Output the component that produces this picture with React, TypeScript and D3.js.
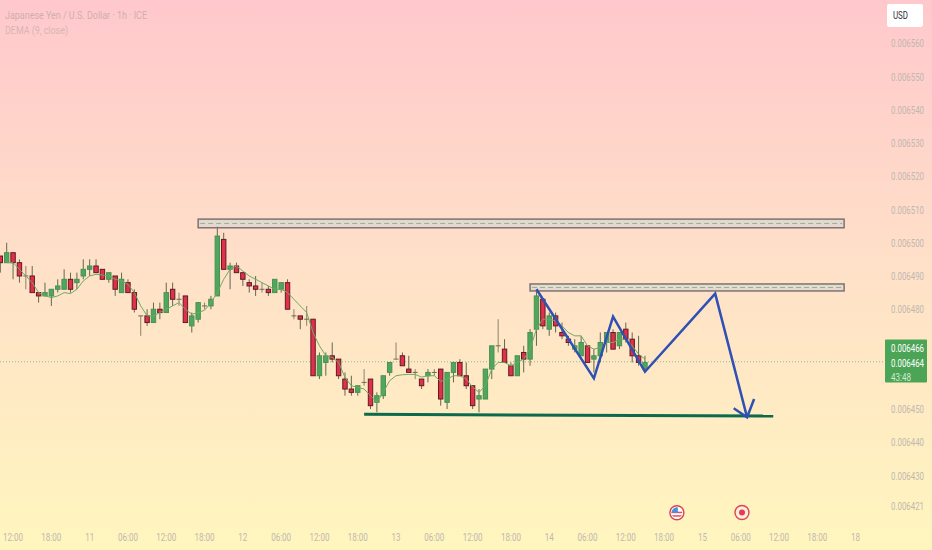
import React from "react";
import * as d3 from "d3";

const opens = [6496,6494,6497,6494,6490,6490,6485,6484,6484,6486,6486,6489,6488,6490,6492,6493,6492,6489,6490,6485,6488,6485,6478,6478,6476,6480,6479,6486,6483,6484,6475,6477,6481,6481,6484,6501,6492,6493,6491,6488,6487,6486,6486,6485,6486,6488,6478,6478,6477,6477,6460,6464,6466,6465,6459,6456,6455,6458,6459,6452,6454,6461,6465,6466,6462,6461,6459,6460,6461,6462,6452,6461,6464,6460,6457,6453,6453,6462,6469,6468,6463,6460,6467,6465,6474,6483,6474,6478,6473,6471,6468,6466,6469,6465,6466,6470,6473,6469,6474,6471,6466,6462];
const highs = [6496,6500,6497,6495,6493,6493,6485,6488,6486,6489,6492,6491,6491,6495,6495,6495,6492,6491,6490,6491,6489,6486,6478,6480,6482,6482,6488,6488,6485,6484,6479,6482,6482,6484,6505,6503,6494,6494,6491,6489,6490,6488,6487,6489,6488,6489,6480,6478,6481,6477,6467,6467,6470,6465,6461,6460,6457,6462,6459,6455,6460,6464,6470,6467,6466,6462,6459,6462,6462,6462,6461,6464,6465,6464,6457,6456,6462,6469,6477,6471,6464,6466,6469,6474,6486,6483,6479,6479,6476,6472,6471,6472,6469,6468,6473,6473,6474,6473,6476,6473,6472,6466];
const lows = [6491,6494,6489,6488,6486,6485,6482,6484,6481,6485,6486,6485,6486,6489,6490,6491,6489,6488,6484,6485,6485,6479,6472,6475,6476,6477,6479,6481,6481,6476,6473,6476,6480,6480,6484,6492,6486,6491,6487,6485,6484,6485,6484,6485,6485,6480,6477,6474,6475,6460,6459,6460,6464,6459,6454,6454,6454,6457,6450,6449,6453,6460,6465,6463,6461,6459,6456,6458,6460,6451,6450,6458,6460,6456,6450,6449,6453,6459,6467,6464,6460,6460,6461,6463,6469,6474,6472,6473,6471,6469,6467,6466,6464,6461,6464,6467,6468,6468,6470,6464,6463,6461];
const closes = [6494,6497,6494,6490,6490,6485,6484,6485,6486,6487,6489,6486,6489,6492,6493,6491,6489,6491,6486,6489,6485,6480,6478,6476,6480,6479,6485,6483,6483,6476,6478,6482,6481,6483,6502,6492,6493,6491,6489,6487,6486,6486,6485,6489,6488,6480,6478,6477,6477,6460,6466,6466,6465,6460,6456,6455,6457,6458,6451,6454,6460,6464,6465,6463,6461,6461,6457,6461,6461,6453,6461,6464,6460,6457,6451,6454,6462,6469,6469,6464,6460,6466,6465,6473,6484,6475,6478,6475,6472,6470,6469,6470,6464,6466,6470,6473,6468,6473,6471,6466,6464,6464];
const demaStart = 1;
const demaValues = [6494,6494,6492,6490,6488,6485,6484,6483.5,6484,6485,6484.7,6486,6488.5,6490,6490.5,6490.3,6490,6489,6488.5,6487.5,6485,6481,6478,6478,6479,6480,6481,6482,6480,6478.5,6479,6479.7,6482,6485,6489,6492,6493,6491.5,6490,6489,6488,6487,6486,6486,6485,6483,6481,6479,6473,6469,6466,6465.5,6464,6459.5,6457,6456.5,6456,6454,6452,6455,6458.5,6460,6460.3,6460.4,6460.4,6459.6,6460,6460,6458.3,6459,6460,6460,6459,6456.6,6455,6457,6462,6464,6464,6463,6464,6465,6468,6474,6477,6477,6476.5,6475,6473,6472,6472,6469,6468,6468.5,6470,6470,6471,6471,6469,6466.5,6465];

const priceTicks = [6560,6550,6540,6530,6520,6510,6500,6490,6480,6450,6440,6430,6421];
const timeIdx = [2,8,14,20,26,32,38,44,50,56,62,68,74,80,86,92,98,104,110,116,122,128,134];
const timeLabels = ["12:00","18:00","11","06:00","12:00","18:00","12","06:00","12:00","18:00","13","06:00","12:00","18:00","14","06:00","12:00","18:00","15","06:00","12:00","18:00","18"];

const zoneIdx: [number, number][] = [[31,132.2],[83,132.2]];
const zonePrices: [number, number][] = [[6507.1,6504.5],[6487.6,6485.5]];
const patternIdx = [84,93,96,101,112,117];
const patternPrices = [6486,6459.2,6477.8,6461.2,6484.7,6447.5];
const arrowIdx = [114.9,117,118.1];
const arrowPrices = [6450.2,6447.5,6453];
const supportIdx = [57,121.1];
const supportPrices = [6448.4,6447.9];
const lastPrice = 6464.2;
const eventIdx = [106,116.2];

const FONT = "Roboto, sans-serif";
const UP = "#4fa75b", DOWN = "#e0304a", TEXT = "#bfb8b0";
const FIT = "spacingAndGlyphs" as const;

const x = d3.scaleLinear().domain([0,134]).range([0.3,855.6]);
const y = d3.scaleLinear().domain([6450,6560]).range([409,43.2]);
const line = d3.line<[number, number]>().x(d => x(d[0])).y(d => y(d[1]));
const zip = (a: number[], b: number[]) => a.map((v, i) => [v, b[i]] as [number, number]);

export default function App() {
  const demaPts = demaValues.map((v, i) => [i + demaStart, v] as [number, number]);
  return (
    <svg width={932} height={550} style={{ position: "absolute", left: 0, top: 0, display: "block" }} fontFamily={FONT}>
      <defs>
        <linearGradient id="bg" x1="0" y1="0" x2="0" y2="1">
          <stop offset="0" stopColor="#ffc8cc" />
          <stop offset="0.5" stopColor="#ffe1c8" />
          <stop offset="1" stopColor="#fff6be" />
        </linearGradient>
      </defs>
      <rect width={932} height={550} fill="url(#bg)" />

      <line x1={0} x2={885} y1={y(lastPrice)} y2={y(lastPrice)} stroke="#6fae6a" strokeOpacity={0.8} strokeWidth={1} strokeDasharray="1 2" />

      {opens.map((o, i) => {
        const c = closes[i];
        const up = c >= o;
        const top = y(Math.max(o, c));
        const bot = y(Math.min(o, c));
        const doji = o === c;
        return (
          <g key={i}>
            <line x1={x(i)} x2={x(i)} y1={y(highs[i])} y2={y(lows[i])} stroke={doji ? "#8b8468" : "#5f6a4e"} strokeWidth={1} />
            {doji ? (
              <line x1={x(i) - 2.5} x2={x(i) + 2.5} y1={top} y2={top} stroke="#6c6a50" strokeWidth={1} />
            ) : (
              <rect x={x(i) - 2.2} width={4.4} y={top} height={Math.max(bot - top, 2)} fill={up ? UP : DOWN} stroke={up ? "#4a9056" : "#5f1c25"} strokeWidth={1} />
            )}
          </g>
        );
      })}

      <path d={line(demaPts) ?? ""} fill="none" stroke="#6dab62" strokeWidth={1} />

      {zoneIdx.map((z, i) => {
        const t = y(zonePrices[i][0]);
        const b = y(zonePrices[i][1]);
        return (
          <g key={i}>
            <rect x={x(z[0])} y={t} width={x(z[1]) - x(z[0])} height={b - t} fill="#ddd6d0" fillOpacity={0.75} stroke="#7b7472" strokeWidth={1.5} />
            <line x1={x(z[0]) + 2} x2={x(z[1]) - 2} y1={(t + b) / 2} y2={(t + b) / 2} stroke="#8fb58f" strokeWidth={1} strokeDasharray="5 3" />
          </g>
        );
      })}

      <path d={line(zip(supportIdx, supportPrices)) ?? ""} fill="none" stroke="#0b6a4c" strokeWidth={3} />
      <path d={line(zip(patternIdx, patternPrices)) ?? ""} fill="none" stroke="#2f50b4" strokeWidth={2.5} strokeLinejoin="miter" />
      <path d={line(zip(arrowIdx, arrowPrices)) ?? ""} fill="none" stroke="#2f50b4" strokeWidth={2.5} />

      <g fontSize={11} fill="#cfaeac">
        <text x={5} y={18.5} textLength={142} lengthAdjust={FIT}>Japanese Yen / U.S. Dollar · 1h · ICE</text>
        <text x={5} y={33.5} fill="#d6b6b3" textLength={63} lengthAdjust={FIT}>DEMA (9, close)</text>
      </g>

      {priceTicks.map(p => (
        <text key={p} x={891} y={y(p) + 4.2} fontSize={10} fill={TEXT} textLength={33} lengthAdjust={FIT}>{(p / 1e6).toFixed(6)}</text>
      ))}

      <rect x={887} y={4} width={36} height={23} rx={2} fill="#ffffff" />
      <text x={893} y={19} fontSize={10.5} fill="#2a2e39" textLength={15} lengthAdjust={FIT}>USD</text>

      <rect x={885} y={339.5} width={42} height={43} rx={1} fill="#4ca557" />
      <text x={891} y={352} fontSize={10} fill="#ffffff" textLength={33} lengthAdjust={FIT}>0.006466</text>
      <text x={891} y={367} fontSize={10} fill="#ffffff" textLength={33} lengthAdjust={FIT}>0.006464</text>
      <text x={891} y={380.5} fontSize={10} fill="#cfe8cf" textLength={20} lengthAdjust={FIT}>43:48</text>

      {timeIdx.map((t, i) => (
        <text key={i} x={x(t)} y={541} textAnchor="middle" fontSize={10.5} fill={TEXT} textLength={timeLabels[i].length > 2 ? 20 : 9} lengthAdjust={FIT}>{timeLabels[i]}</text>
      ))}

      <g transform={`translate(${x(eventIdx[0])},512.7)`}>
        <circle r={7} fill="#ffffff" stroke="#dd4452" strokeWidth={1.4} />
        <clipPath id="fl"><circle r={5.4} /></clipPath>
        <g clipPath="url(#fl)">
          <rect x={-6} y={-6} width={12} height={12} fill="#ffffff" />
          <rect x={-6} y={-1} width={12} height={1.5} fill="#e2505c" />
          <rect x={-6} y={2.5} width={12} height={1.5} fill="#e2505c" />
          <rect x={-6} y={-6} width={7} height={6} fill="#4c8fe0" />
        </g>
      </g>
      <g transform={`translate(${x(eventIdx[1])},512.5)`}>
        <circle r={7} fill="#ffeee0" stroke="#dd4452" strokeWidth={1.4} />
        <circle r={3} fill="#e83b4c" />
      </g>
    </svg>
  );
}
